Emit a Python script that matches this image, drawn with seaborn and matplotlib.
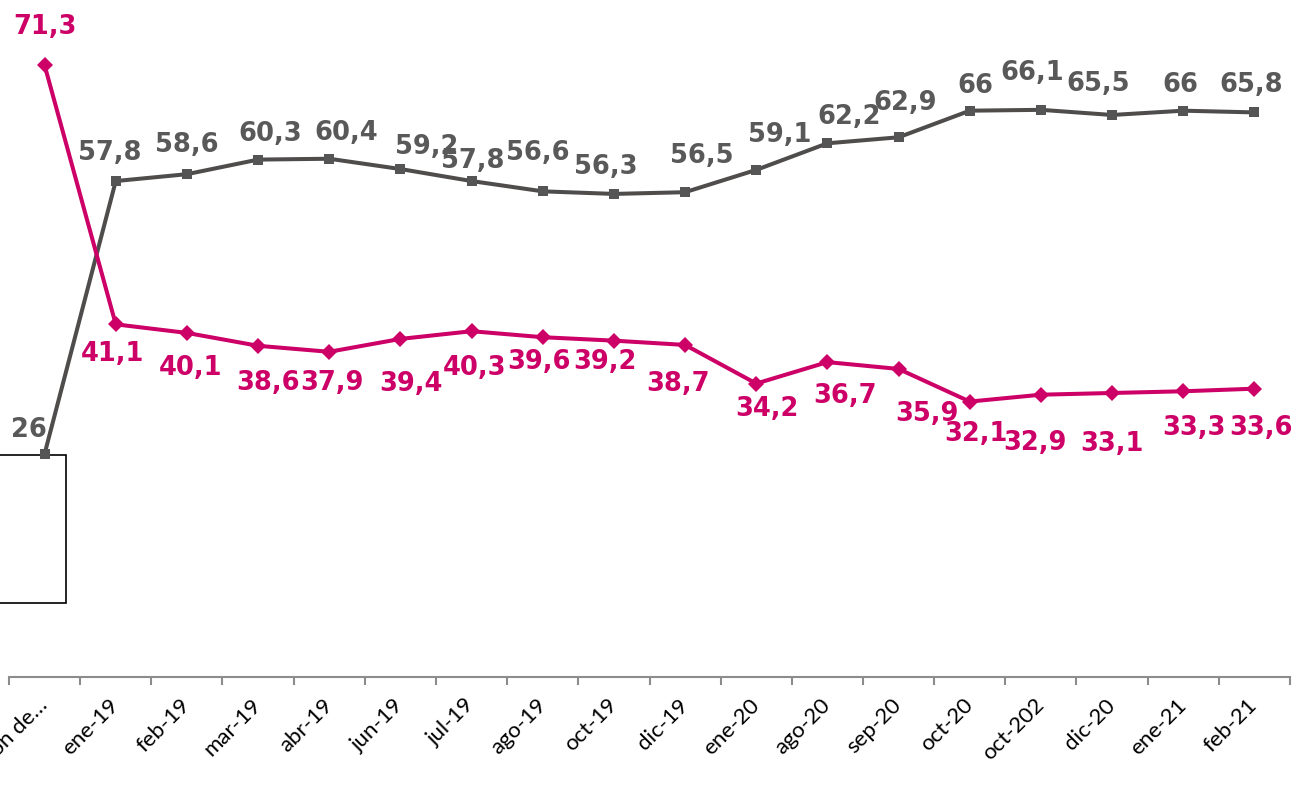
import numpy as np
import pandas as pd
import matplotlib
matplotlib.use("Agg")
import matplotlib.pyplot as plt
import matplotlib.patches as patches
import seaborn as sns

# data
periods = ["Elección de…", "ene-19", "feb-19", "mar-19", "abr-19", "jun-19", "jul-19",
           "ago-19", "oct-19", "dic-19", "ene-20", "ago-20", "sep-20", "oct-20",
           "oct-202", "dic-20", "ene-21", "feb-21"]
gray_vals = [26, 57.8, 58.6, 60.3, 60.4, 59.2, 57.8, 56.6, 56.3, 56.5,
             59.1, 62.2, 62.9, 66, 66.1, 65.5, 66, 65.8]
pink_vals = [71.3, 41.1, 40.1, 38.6, 37.9, 39.4, 40.3, 39.6, 39.2, 38.7,
             34.2, 36.7, 35.9, 32.1, 32.9, 33.1, 33.3, 33.6]

# label offsets (pixels) so they land like in the original
gray_off = [(-16, 24), (-6, 28), (0, 29), (12, 26), (17, 26), (26, 22), (1, 20), (-5, 38),
            (-8, 27), (17, 36), (23, 35), (22, 26), (7, 34), (6, 25), (-9, 37), (-14, 31),
            (-3, 26), (-3, 27)]
pink_off = [(0, 38), (-3, -30), (4, -35), (10, -37), (3, -31), (11, -45), (3, -37), (-4, -25),
            (-9, -21), (-7, -39), (11, -25), (18, -34), (28, -45), (6, -32), (-6, -48),
            (0, -51), (11, -37), (7, -39)]

GRAY = "#4f4c4c"
GRAY_TXT = "#595959"
PINK = "#cc0066"

sns.set_style("white")
plt.rcParams['font.family'] = ['DejaVu Sans']

fig = plt.figure(figsize=(13.01, 7.97), dpi=100)
ax = fig.add_axes([9 / 1301, 120 / 797, 1281 / 1301, 677 / 797])

idx = np.arange(len(periods))
df = pd.DataFrame({"pos": idx, "gris": gray_vals, "rosa": pink_vals})

sns.lineplot(data=df, x="pos", y="gris", ax=ax, color=GRAY, linewidth=2.9,
             marker="s", markersize=7, markeredgewidth=0, markerfacecolor="#555555", zorder=3)
sns.lineplot(data=df, x="pos", y="rosa", ax=ax, color=PINK, linewidth=2.9,
             marker="D", markersize=8, markeredgewidth=0, zorder=4)

for i, v in enumerate(gray_vals):
    ax.annotate(f"{v:g}".replace(".", ","), xy=(i, v), xytext=gray_off[i],
                textcoords="offset pixels", ha="center", va="center",
                fontsize=18.5, fontweight="bold", color=GRAY_TXT, zorder=5)
for i, v in enumerate(pink_vals):
    ax.annotate(f"{v:g}".replace(".", ","), xy=(i, v), xytext=pink_off[i],
                textcoords="offset pixels", ha="center", va="center",
                fontsize=18.5, fontweight="bold", color=PINK, zorder=5)

# white box at lower left
box = patches.Rectangle((-0.01, (797 - 603) / 797), 66 / 1301 + 0.01, (603 - 455) / 797,
                        transform=fig.transFigure, facecolor="white", edgecolor="black",
                        linewidth=1.2, clip_on=False, zorder=2)
ax.add_patch(box)

ax.set_xlim(-0.5, len(periods) - 0.5)
ax.set_ylim(0, 78.9)
ax.set_xlabel("")
ax.set_ylabel("")
ax.set_yticks([])
for s in ["left", "top", "right"]:
    ax.spines[s].set_visible(False)
ax.spines["bottom"].set_color("#8c8c8c")
ax.spines["bottom"].set_linewidth(1.5)

ax.set_xticks(idx)
ax.set_xticklabels(periods, rotation=45, ha="right", va="center", rotation_mode="anchor",
                   fontsize=16, family="Lato", color="black")
ax.set_xticks(np.arange(-0.5, len(periods)), minor=True)
ax.tick_params(axis="x", which="major", length=0, pad=18)
ax.tick_params(axis="x", which="minor", bottom=True, length=6, width=1.5,
               color="#8c8c8c", direction="out")

fig.savefig("out.png", dpi=100)
